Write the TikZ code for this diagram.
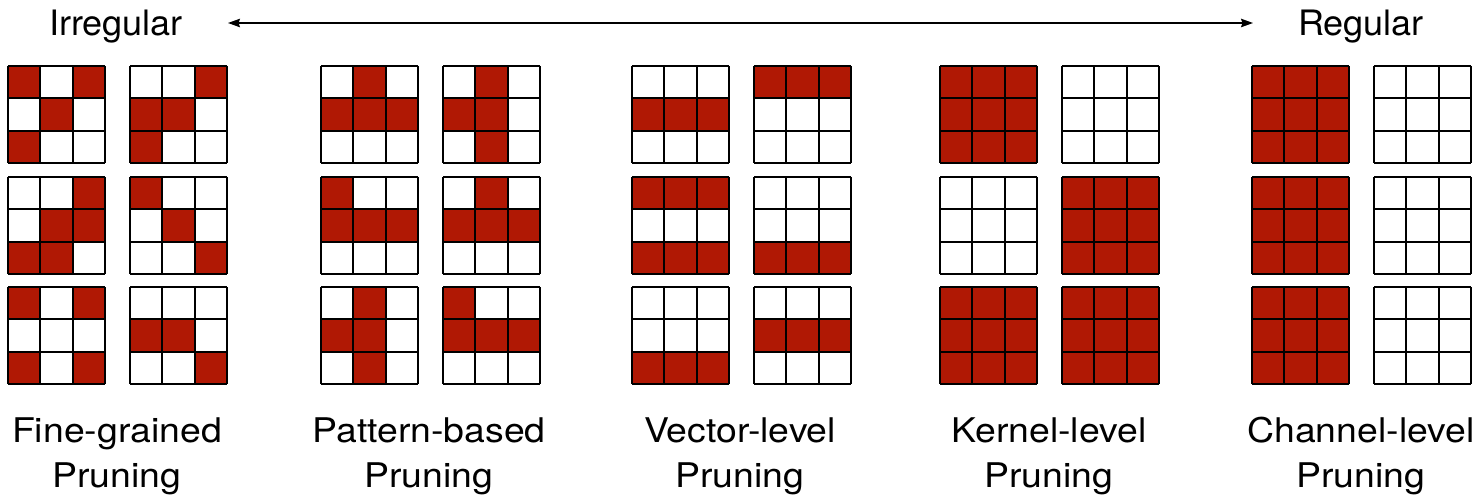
\documentclass[tikz,border=0pt]{standalone}
\usepackage{fontspec}
\setmainfont{TeX Gyre Heros}
\usetikzlibrary{arrows.meta}

\definecolor{prunered}{RGB}{176,24,4}

\tikzset{
  gridline/.style={line width=2pt, line cap=square},
  pruned/.style={fill=prunered},
  caption/.style={anchor=base, inner sep=0pt, font=\fontsize{34}{40}\selectfont},
  header/.style={anchor=base, inner sep=0pt, font=\fontsize{35}{40}\selectfont},
  axis/.style={line width=1.4pt, {Stealth[length=12pt,width=8.5pt,inset=1.5pt]}-{Stealth[length=12pt,width=8.5pt,inset=1.5pt]}}
}

% size of one 3x3 kernel and of one cell
\def\ks{97}
\def\cs{32.333}

% \kgrid{left}{top}{nine cells, row by row, 1 = kept weight}
\newcommand\kgrid[3]{%
  \foreach \b [count=\k from 0] in {#3} {%
    \ifnum\b=1
      \pgfmathsetmacro\cx{#1+mod(\k,3)*\cs}%
      \pgfmathsetmacro\cy{#2+int(\k/3)*\cs}%
      \fill[pruned] (\cx,\cy) rectangle ++(\cs,\cs);
    \fi
  }%
  \foreach \i in {0,1,2,3} {%
    \draw[gridline] ({#1+\i*\cs},#2) -- ++(0,\ks);
    \draw[gridline] (#1,{#2+\i*\cs}) -- ++(\ks,0);
  }%
}

\begin{document}
\begin{tikzpicture}[x=1pt, y=-1pt]
\useasboundingbox[fill=white] (0,0) rectangle (1478,497);

% axis from irregular to regular sparsity
\node[header] (irr) at (116,36) {\scalebox{1.03}[1]{Irregular}};
\node[header] (reg) at (1361,36) {\scalebox{1.03}[1]{Regular}};
\coordinate (axl) at (228,23);
\coordinate (axr) at (1253,23);
\draw[axis] (axl) -- (axr);

% row tops and group left edges
\def\ra{66}\def\rb{177}\def\rc{287}
\def\gd{122}

% fine-grained
\def\gx{8}
\kgrid{\gx}{\ra}{1,0,1,0,1,0,1,0,0}
\kgrid{\gx+\gd}{\ra}{0,0,1,1,1,0,1,0,0}
\kgrid{\gx}{\rb}{0,0,1,0,1,1,1,1,0}
\kgrid{\gx+\gd}{\rb}{1,0,0,0,1,0,0,0,1}
\kgrid{\gx}{\rc}{1,0,1,0,0,0,1,0,1}
\kgrid{\gx+\gd}{\rc}{0,0,0,1,1,0,0,0,1}

% pattern-based
\def\gx{321}
\kgrid{\gx}{\ra}{0,1,0,1,1,1,0,0,0}
\kgrid{\gx+\gd}{\ra}{0,1,0,1,1,0,0,1,0}
\kgrid{\gx}{\rb}{1,0,0,1,1,1,0,0,0}
\kgrid{\gx+\gd}{\rb}{0,1,0,1,1,1,0,0,0}
\kgrid{\gx}{\rc}{0,1,0,1,1,0,0,1,0}
\kgrid{\gx+\gd}{\rc}{1,0,0,1,1,1,0,0,0}

% vector-level
\def\gx{632}
\kgrid{\gx}{\ra}{0,0,0,1,1,1,0,0,0}
\kgrid{\gx+\gd}{\ra}{1,1,1,0,0,0,0,0,0}
\kgrid{\gx}{\rb}{1,1,1,0,0,0,1,1,1}
\kgrid{\gx+\gd}{\rb}{0,0,0,0,0,0,1,1,1}
\kgrid{\gx}{\rc}{0,0,0,0,0,0,1,1,1}
\kgrid{\gx+\gd}{\rc}{0,0,0,1,1,1,0,0,0}

% kernel-level
\def\gx{940}
\kgrid{\gx}{\ra}{1,1,1,1,1,1,1,1,1}
\kgrid{\gx+\gd}{\ra}{0,0,0,0,0,0,0,0,0}
\kgrid{\gx}{\rb}{0,0,0,0,0,0,0,0,0}
\kgrid{\gx+\gd}{\rb}{1,1,1,1,1,1,1,1,1}
\kgrid{\gx}{\rc}{1,1,1,1,1,1,1,1,1}
\kgrid{\gx+\gd}{\rc}{1,1,1,1,1,1,1,1,1}

% channel-level
\def\gx{1252}
\kgrid{\gx}{\ra}{1,1,1,1,1,1,1,1,1}
\kgrid{\gx+\gd}{\ra}{0,0,0,0,0,0,0,0,0}
\kgrid{\gx}{\rb}{1,1,1,1,1,1,1,1,1}
\kgrid{\gx+\gd}{\rb}{0,0,0,0,0,0,0,0,0}
\kgrid{\gx}{\rc}{1,1,1,1,1,1,1,1,1}
\kgrid{\gx+\gd}{\rc}{0,0,0,0,0,0,0,0,0}

% captions
\node[caption] (c1a) at (117,442) {\scalebox{1.1}[1]{Fine-grained}};
\node[caption] (c1b) at (117,487) {\scalebox{1.1}[1]{Pruning}};
\node[caption] (c2a) at (429,442) {\scalebox{1.1}[1]{Pattern-based}};
\node[caption] (c2b) at (429,487) {\scalebox{1.1}[1]{Pruning}};
\node[caption] (c3a) at (740,442) {\scalebox{1.1}[1]{Vector-level}};
\node[caption] (c3b) at (740,487) {\scalebox{1.1}[1]{Pruning}};
\node[caption] (c4a) at (1049,442) {\scalebox{1.1}[1]{Kernel-level}};
\node[caption] (c4b) at (1049,487) {\scalebox{1.1}[1]{Pruning}};
\node[caption] (c5a) at (1361,442) {\scalebox{1.1}[1]{Channel-level}};
\node[caption] (c5b) at (1361,487) {\scalebox{1.1}[1]{Pruning}};
\end{tikzpicture}
\end{document}
